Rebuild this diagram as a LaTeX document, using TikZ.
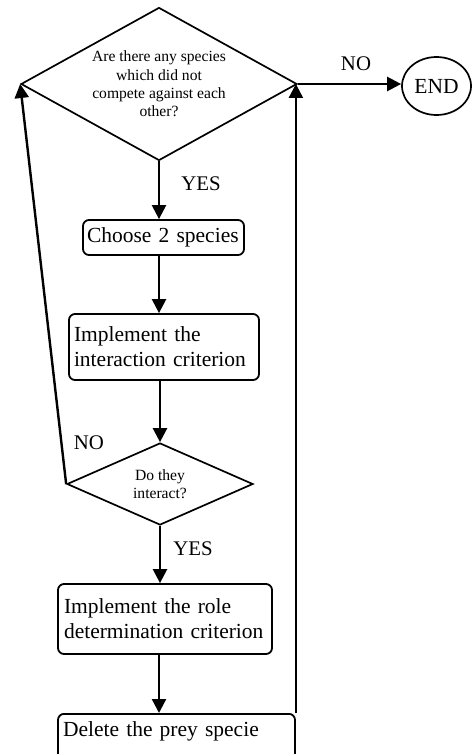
\documentclass[tikz,border=0pt]{standalone}
\usepackage{fontspec}
\setmainfont{Liberation Serif}
\usetikzlibrary{shapes.geometric,arrows.meta}
\tikzset{
  boxtext/.style={font=\fontsize{21.5}{24.8}\selectfont},
  qtext/.style={font=\fontsize{15.6}{18.3}\selectfont},
  lbl/.style={font=\fontsize{20.8}{24}\selectfont, inner sep=0pt},
  procbox/.style={draw, line width=1.8pt, rounded corners=6pt, boxtext, align=left, inner xsep=4pt, inner ysep=0pt},
  decide/.style={draw, diamond, line width=1.7pt, inner sep=0pt, qtext, align=center},
  flow/.style={line width=2.4pt, -{Triangle[length=14pt,width=14pt]}},
}
\begin{document}
\begin{tikzpicture}[x=1pt,y=-1pt]
\useasboundingbox (0,0) rectangle (471,754);
% decisions
\node[decide, aspect=1.8, minimum width=276pt, minimum height=153pt] (q1) at (159,84)
  {Are there any species\\which did not\\compete against each\\other?};
\node[decide, aspect=2.27, minimum width=186pt, minimum height=82pt] (q2) at (160,484)
  {Do they\\interact?};
% end
\node[draw, ellipse, line width=1.7pt, minimum width=69pt, minimum height=58pt, inner sep=0pt, boxtext] (end) at (436.5,86) {END};
% process boxes
\node[procbox, minimum width=161pt, minimum height=35pt, text width=153pt] (choose) at (163.5,237.5) {Choose 2 species};
\node[procbox, minimum width=190pt, minimum height=66pt, text width=180pt, inner xsep=5pt] (inter) at (164,347) {Implement the\\interaction criterion};
\node[procbox, minimum width=214pt, minimum height=70pt, text width=202pt, inner xsep=6pt] (role) at (165,619) {Implement the role\\determination criterion};
\node[procbox, anchor=north, minimum width=237pt, text width=227pt, inner xsep=5pt, inner ysep=5pt, text height=18pt, text depth=25pt] (del) at (176.5,713) {Delete the prey specie};
% connectors
\draw[flow] (q1.south) -- (q1.south |- choose.north);
\draw[flow] (q1.south |- choose.south) -- (q1.south |- inter.north);
\draw[flow] (q2.north |- inter.south) -- (q2.north);
\draw[flow] (q2.south) -- (q2.south |- role.north);
\draw[flow] (159,0 |- role.south) -- (159,0 |- del.north);
\draw[flow] (del.north east) -- (del.north east |- q1.east);
\draw[flow] (q2.west) -- (q1.west);
\draw[flow] (q1.east) -- (q1.east -| end.west);
% labels
\node[lbl] (yes1) at (201,184) {YES};
\node[lbl] (yes2) at (193,549) {YES};
\node[lbl] (no1) at (356,64) {NO};
\node[lbl] (no2) at (89,443) {NO};
\end{tikzpicture}
\end{document}
